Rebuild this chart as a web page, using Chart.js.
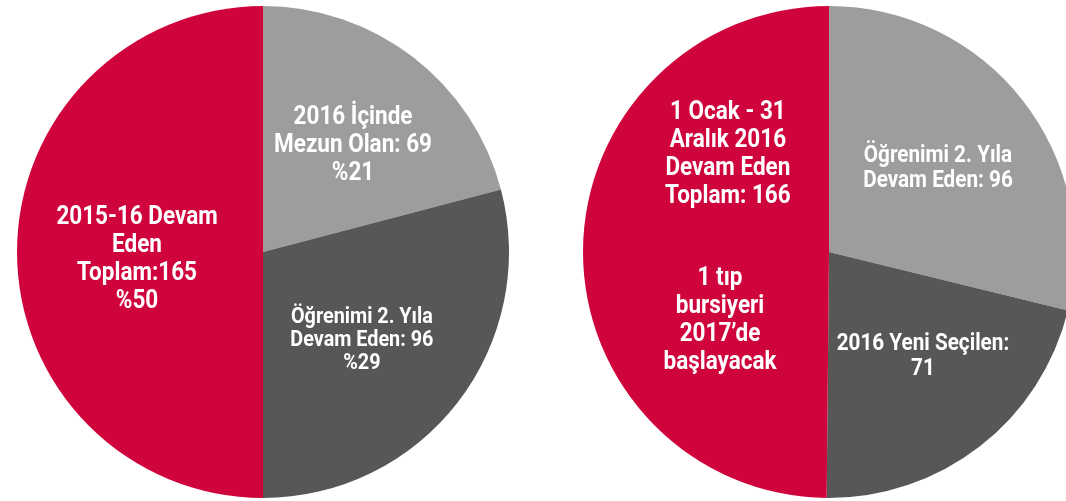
<!DOCTYPE html>
<html>
<head>
<meta charset="utf-8">
<script src="https://cdn.jsdelivr.net/npm/chart.js@4"></script>
<style>
  html, body { margin: 0; padding: 0; background: #fff; overflow: hidden; }
  body { width: 1066px; height: 501px; position: relative; }
  .box { position: absolute; top: 0; height: 501px; }
  #left { left: 0; width: 526px; }
  #right { left: 569px; width: 520px; }
</style>
</head>
<body>
<div class="box" id="left"><canvas id="chartLeft"></canvas></div>
<div class="box" id="right"><canvas id="chartRight"></canvas></div>
<script>
// slice order: clockwise from 12 o'clock
var leftCategories = ['2016 İçinde Mezun Olan', 'Öğrenimi 2. Yıla Devam Eden', '2015-16 Devam Eden Toplam'];
var leftValues = [69, 96, 165];
var rightCategories = ['Öğrenimi 2. Yıla Devam Eden', '2016 Yeni Seçilen', '1 Ocak - 31 Aralık 2016 Devam Eden Toplam'];
var rightValues = [96, 71, 166];
var sliceColors = ['#9d9d9c', '#575756', '#d0043c'];

var leftLabels = [
  { lines: ['2016 İçinde', 'Mezun Olan: 69', '%21'], size: 25, lh: 28, dx: 0.366, dy: -0.431 },
  { lines: ['Öğrenimi 2. Yıla', 'Devam Eden: 96', '%29'], size: 22, lh: 23, dx: 0.402, dy: 0.358 },
  { lines: ['2015-16 Devam', 'Eden', 'Toplam:165', '%50'], size: 25, lh: 28, dx: -0.512, dy: 0.03 }
];
var rightLabels = [
  { lines: ['Öğrenimi 2. Yıla', 'Devam Eden: 96'], size: 23, lh: 25, dx: 0.443, dy: -0.337 },
  { lines: ['2016 Yeni Seçilen:', '71'], size: 23, lh: 25, dx: 0.382, dy: 0.427 },
  { lines: ['1 Ocak - 31', 'Aralık 2016', 'Devam Eden', 'Toplam: 166'], size: 25, lh: 28, dx: -0.411, dy: -0.394 },
  { lines: ['1 tıp', 'bursiyeri', '2017’de', 'başlayacak'], size: 25, lh: 28, dx: -0.443, dy: 0.28 }
];

var FONT = 'Roboto, "Noto Sans", sans-serif';
var SQUEEZE = 0.9;

var sliceText = {
  id: 'sliceText',
  afterDatasetsDraw: function (chart, args, opts) {
    var arc = chart.getDatasetMeta(0).data[0];
    var ctx = chart.ctx;
    var R = arc.outerRadius;
    ctx.save();
    ctx.fillStyle = '#ffffff';
    ctx.textAlign = 'center';
    ctx.textBaseline = 'middle';
    opts.items.forEach(function (it) {
      ctx.font = 'bold ' + it.size + 'px ' + FONT;
      var x = arc.x + it.dx * R;
      var y0 = arc.y + it.dy * R - (it.lines.length - 1) * it.lh / 2;
      it.lines.forEach(function (t, i) {
        ctx.save();
        ctx.translate(x, y0 + i * it.lh);
        ctx.scale(SQUEEZE, 1);
        ctx.fillText(t, 0, 0);
        ctx.restore();
      });
    });
    ctx.restore();
  }
};

function makePie(id, cats, vals, labels) {
  return new Chart(document.getElementById(id), {
    type: 'pie',
    data: {
      labels: cats,
      datasets: [{
        data: vals,
        backgroundColor: sliceColors,
        borderWidth: 0
      }]
    },
    options: {
      responsive: true,
      maintainAspectRatio: false,
      animation: false,
      layout: { padding: { top: 6, bottom: 3, left: 0, right: 0 } },
      plugins: {
        legend: { display: false },
        tooltip: { enabled: false },
        sliceText: { items: labels }
      }
    },
    plugins: [sliceText]
  });
}

makePie('chartLeft', leftCategories, leftValues, leftLabels);
makePie('chartRight', rightCategories, rightValues, rightLabels);
</script>
</body>
</html>
